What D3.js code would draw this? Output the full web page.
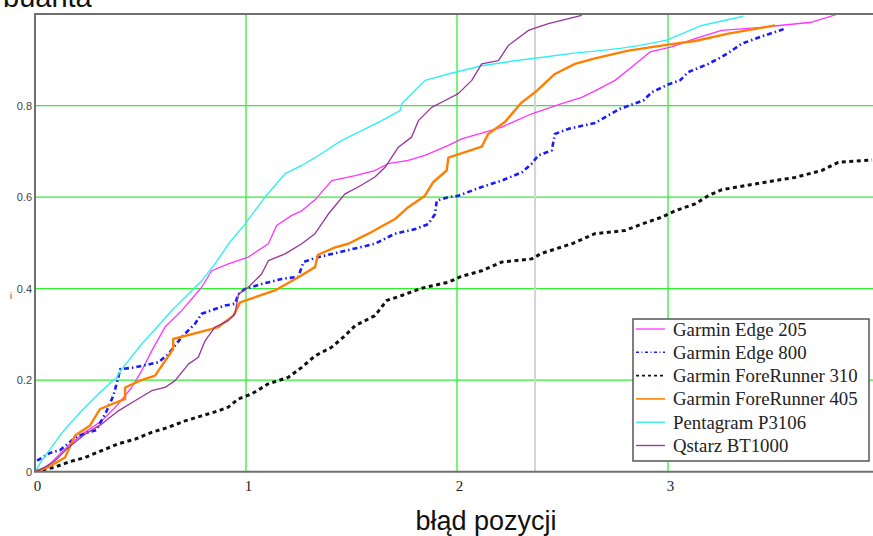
<!DOCTYPE html>
<html><head><meta charset="utf-8">
<script src="https://cdn.jsdelivr.net/npm/d3@7"></script>
<style>body{margin:0;background:#fff;overflow:hidden}svg{display:block}
.serif{font-family:"Liberation Serif","Times New Roman","DejaVu Serif",serif}
.sans{font-family:"Liberation Sans",Arial,"DejaVu Sans",sans-serif}</style>
</head><body><svg id="c" width="873" height="536"></svg>
<script>
// ---- data ----
const seriesNames = ["Garmin Edge 205","Garmin Edge 800","Garmin ForeRunner 310","Garmin ForeRunner 405","Pentagram P3106","Qstarz BT1000"];
const xTicks = [0,1,2,3];
const yTicks = [0,0.2,0.4,0.6,0.8];
const cursorX = 2.37;

const edge205 = [[0,0],[0.063,0.013],[0.118,0.039],[0.158,0.057],[0.237,0.086],[0.316,0.111],[0.395,0.148],[0.458,0.184],[0.506,0.221],[0.553,0.264],[0.616,0.316],[0.695,0.352],[0.790,0.403],[0.837,0.439],[0.916,0.454],[1.011,0.469],[1.106,0.498],[1.145,0.538],[1.217,0.560],[1.264,0.570],[1.327,0.594],[1.406,0.636],[1.517,0.647],[1.611,0.658],[1.674,0.673],[1.769,0.680],[1.848,0.691],[1.959,0.713],[2.022,0.727],[2.133,0.742],[2.212,0.753],[2.354,0.782],[2.496,0.804],[2.591,0.818],[2.654,0.832],[2.749,0.855],[2.828,0.884],[2.915,0.917],[3.017,0.928],[3.128,0.946],[3.254,0.964],[3.444,0.971],[3.681,0.982],[3.807,1.0]];
const edge800 = [[0.01,0.024],[0.071,0.041],[0.118,0.047],[0.198,0.077],[0.245,0.085],[0.292,0.091],[0.308,0.106],[0.340,0.133],[0.371,0.166],[0.395,0.206],[0.403,0.224],[0.474,0.228],[0.584,0.239],[0.632,0.257],[0.695,0.294],[0.758,0.323],[0.790,0.345],[0.900,0.363],[0.948,0.367],[0.964,0.388],[0.995,0.399],[1.074,0.410],[1.169,0.421],[1.248,0.426],[1.272,0.458],[1.327,0.467],[1.611,0.498],[1.706,0.520],[1.801,0.530],[1.864,0.541],[1.896,0.563],[1.904,0.592],[1.959,0.600],[2.006,0.603],[2.117,0.622],[2.212,0.636],[2.307,0.654],[2.354,0.673],[2.385,0.691],[2.449,0.702],[2.464,0.738],[2.528,0.749],[2.654,0.762],[2.773,0.793],[2.883,0.811],[2.923,0.829],[3.001,0.846],[3.057,0.855],[3.096,0.873],[3.191,0.891],[3.254,0.906],[3.302,0.920],[3.349,0.935],[3.444,0.951],[3.555,0.968]];
const fr310 = [[0,0],[0.095,0.010],[0.158,0.021],[0.237,0.031],[0.316,0.046],[0.395,0.061],[0.474,0.071],[0.553,0.086],[0.632,0.097],[0.711,0.111],[0.790,0.122],[0.869,0.133],[0.916,0.141],[0.964,0.159],[1.027,0.170],[1.106,0.192],[1.200,0.206],[1.264,0.228],[1.327,0.253],[1.406,0.272],[1.469,0.297],[1.517,0.319],[1.611,0.341],[1.667,0.374],[1.738,0.385],[1.833,0.401],[1.959,0.414],[2.022,0.427],[2.117,0.439],[2.212,0.458],[2.354,0.465],[2.401,0.477],[2.544,0.498],[2.654,0.520],[2.796,0.527],[2.875,0.541],[2.970,0.556],[3.033,0.570],[3.128,0.585],[3.191,0.603],[3.254,0.616],[3.365,0.625],[3.507,0.636],[3.602,0.643],[3.728,0.658],[3.807,0.676],[3.967,0.681]];
const fr405 = [[0,0],[0.063,0.010],[0.142,0.031],[0.190,0.079],[0.261,0.101],[0.308,0.137],[0.427,0.159],[0.427,0.184],[0.498,0.199],[0.569,0.210],[0.655,0.268],[0.655,0.290],[0.821,0.310],[0.869,0.316],[0.940,0.341],[0.972,0.370],[1.137,0.396],[1.248,0.425],[1.327,0.447],[1.341,0.474],[1.422,0.490],[1.485,0.498],[1.580,0.520],[1.706,0.552],[1.769,0.578],[1.848,0.603],[1.888,0.633],[1.951,0.658],[1.959,0.686],[2.117,0.710],[2.148,0.738],[2.227,0.764],[2.307,0.807],[2.370,0.829],[2.464,0.869],[2.559,0.891],[2.654,0.903],[2.812,0.920],[3.001,0.933],[3.128,0.941],[3.286,0.957],[3.507,0.975]];
const p3106 = [[0,0],[0.032,0.024],[0.118,0.079],[0.158,0.101],[0.221,0.133],[0.300,0.170],[0.387,0.206],[0.411,0.224],[0.506,0.279],[0.584,0.319],[0.648,0.352],[0.727,0.388],[0.790,0.417],[0.853,0.454],[0.924,0.502],[0.995,0.541],[1.090,0.600],[1.185,0.651],[1.264,0.669],[1.327,0.686],[1.454,0.724],[1.548,0.745],[1.643,0.767],[1.730,0.789],[1.738,0.804],[1.801,0.833],[1.848,0.855],[1.959,0.869],[2.117,0.887],[2.275,0.898],[2.433,0.907],[2.544,0.914],[2.654,0.919],[2.773,0.925],[2.859,0.931],[2.994,0.943],[3.160,0.975],[3.357,0.995]];
const bt1000 = [[0,0],[0.047,0.010],[0.095,0.024],[0.158,0.053],[0.237,0.082],[0.316,0.104],[0.395,0.133],[0.474,0.155],[0.553,0.177],[0.616,0.184],[0.664,0.199],[0.727,0.235],[0.774,0.250],[0.806,0.286],[0.853,0.316],[0.916,0.330],[0.948,0.345],[0.964,0.388],[1.011,0.403],[1.074,0.432],[1.106,0.461],[1.185,0.476],[1.264,0.498],[1.327,0.520],[1.390,0.563],[1.469,0.607],[1.532,0.622],[1.611,0.644],[1.659,0.665],[1.722,0.709],[1.785,0.731],[1.817,0.767],[1.880,0.796],[1.943,0.811],[2.006,0.826],[2.070,0.855],[2.117,0.891],[2.196,0.898],[2.243,0.931],[2.338,0.964],[2.433,0.979],[2.591,0.997]];

const seriesData = [edge205, edge800, fr310, fr405, p3106, bt1000];

// ---- styles ----
const styles = [
  {color:"#ff33ff", width:1.3, dash:null},
  {color:"#1a1aff", width:2.6, dash:"5,3,1.5,3"},
  {color:"#111111", width:3, dash:"4,3.5"},
  {color:"#ff8000", width:2.4, dash:null},
  {color:"#33f0f0", width:1.4, dash:null},
  {color:"#993399", width:1.3, dash:null}
];

const svg = d3.select("#c");
const L = 35, T = 14, R = 879, B = 471.7;
const x = d3.scaleLinear().domain([0,4]).range([L,R]);
const y = d3.scaleLinear().domain([0,1]).range([B,T]);

svg.append("defs").append("clipPath").attr("id","clip")
  .append("rect").attr("x",L).attr("y",T).attr("width",R-L).attr("height",B-T);

// grid
const grid = svg.append("g");
grid.selectAll("line.gx").data(xTicks.filter(d=>d>0)).join("line")
  .attr("x1",d=>x(d)).attr("x2",d=>x(d)).attr("y1",T).attr("y2",B)
  .attr("stroke","#33ee33").attr("stroke-width",1.3);
grid.selectAll("line.gy").data(yTicks.filter(d=>d>0)).join("line")
  .attr("x1",L).attr("x2",R).attr("y1",d=>y(d)).attr("y2",d=>y(d))
  .attr("stroke","#33ee33").attr("stroke-width",1.3);

// cursor line
svg.append("line").attr("x1",x(cursorX)).attr("x2",x(cursorX)).attr("y1",T).attr("y2",B)
  .attr("stroke","#d4d4d4").attr("stroke-width",2);

// series
const line = d3.line().x(d=>x(d[0])).y(d=>y(d[1]));
const plot = svg.append("g").attr("clip-path","url(#clip)");
seriesData.forEach((s,i)=>{
  plot.append("path").datum(s).attr("d",line).attr("fill","none")
    .attr("stroke",styles[i].color).attr("stroke-width",styles[i].width)
    .attr("stroke-dasharray",styles[i].dash).attr("stroke-linejoin","round");
});

// frame
svg.append("path").attr("d",`M${R},${T}H${L}V${B}H${R}`).attr("fill","none")
  .attr("stroke","#707070").attr("stroke-width",2);

// axes labels
const xAxis = d3.axisBottom(x).tickValues(xTicks).tickSize(0).tickPadding(9).tickFormat(d3.format("d"));
const gx = svg.append("g").attr("transform",`translate(2,${B})`).call(xAxis);
gx.select(".domain").remove();
gx.attr("font-family",null).attr("font-size",null);
gx.selectAll("text").attr("class","serif").style("font-size","15px").attr("fill","#222");

const yAxis = d3.axisLeft(y).tickValues(yTicks).tickSize(0).tickPadding(3).tickFormat(d=>d===0?"0":d3.format(".1f")(d));
const gy = svg.append("g").attr("transform",`translate(${L},0)`).call(yAxis);
gy.select(".domain").remove();
gy.attr("font-family",null).attr("font-size",null);
gy.selectAll("text").attr("class","sans").style("font-size","11px").attr("fill","#444");

svg.append("text").attr("class","sans").attr("x",10).attr("y",299)
  .style("font-size","9px").attr("fill","#444").text("i");

// title fragment and x-axis title
svg.append("text").attr("class","sans").attr("x",3).attr("y",7)
  .style("font-size","29px").attr("fill","#111").text("buanta");
svg.append("text").attr("class","sans").attr("x",486).attr("y",530).attr("text-anchor","middle")
  .style("font-size","27px").attr("fill","#111").text("błąd pozycji");

// legend
const lg = svg.append("g");
lg.append("rect").attr("x",633).attr("y",319).attr("width",236).attr("height",142)
  .attr("fill","#fff").attr("stroke","#555").attr("stroke-width",1.5);
seriesNames.forEach((n,i)=>{
  const cy = 329 + i*23.3;
  lg.append("line").attr("x1",636).attr("x2",665).attr("y1",cy).attr("y2",cy)
    .attr("stroke",styles[i].color).attr("stroke-width",Math.min(styles[i].width,1.6))
    .attr("stroke-dasharray",styles[i].dash ? (i===1?"3,2.5,1,2.5":"3,3") : null);
  lg.append("text").attr("class","serif").attr("x",673).attr("y",cy+6.5)
    .style("font-size","18.8px").attr("fill","#222").text(n);
});
</script></body></html>
